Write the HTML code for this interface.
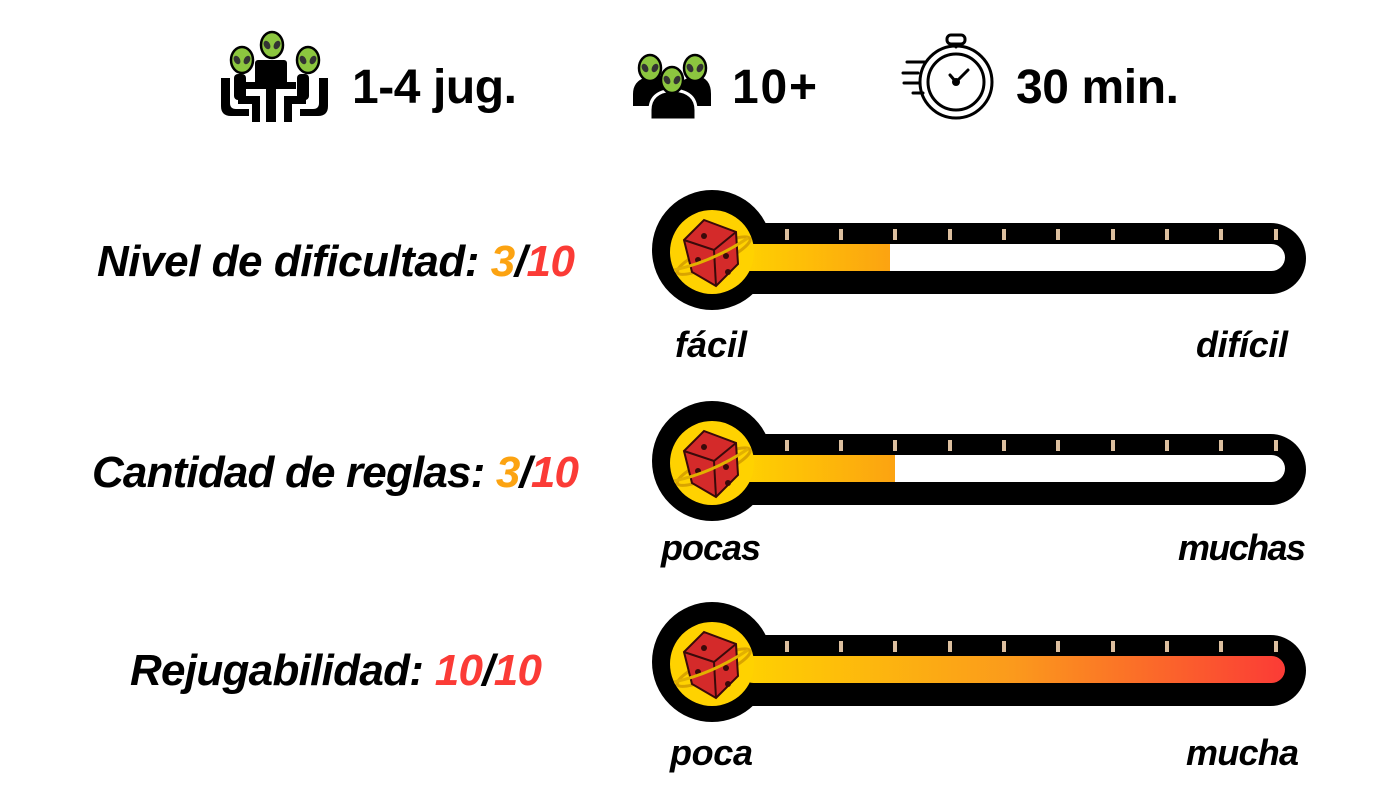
<!DOCTYPE html>
<html><head><meta charset="utf-8"><style>html,body{margin:0;padding:0;background:#fff}svg{display:block}</style></head>
<body>
<svg width="1400" height="800" viewBox="0 0 1400 800" xmlns="http://www.w3.org/2000/svg">
<defs>
<linearGradient id="gy" x1="0" x2="1"><stop offset="0" stop-color="#ffd200"/><stop offset="1" stop-color="#fca311"/></linearGradient>
<linearGradient id="gr" x1="0" x2="1"><stop offset="0" stop-color="#ffd200"/><stop offset="0.5" stop-color="#fb9a1c"/><stop offset="1" stop-color="#fb3b36"/></linearGradient>
<g id="dice">
<circle cx="0" cy="0" r="42" fill="#ffd200"/>
<ellipse cx="0" cy="4" rx="40" ry="9" fill="none" stroke="#d9a400" stroke-width="3" transform="rotate(-25)"/>
<polygon points="-28,-12 -8,-32 24,-20 26,12 4,34 -20,20" fill="#d42a2a" stroke="#3a0a0a" stroke-width="2"/>
<polyline points="-28,-12 2,-2 24,-20 M2,-2" fill="none" stroke="#3a0a0a" stroke-width="2"/>
<line x1="2" y1="-2" x2="4" y2="34" stroke="#3a0a0a" stroke-width="2"/>
<circle cx="-8" cy="-16" r="3" fill="#3a0a0a"/><circle cx="14" cy="4" r="3" fill="#3a0a0a"/><circle cx="-14" cy="8" r="3" fill="#3a0a0a"/><circle cx="16" cy="20" r="3" fill="#3a0a0a"/>
<path d="M-38,18 Q0,10 36,-14" fill="none" stroke="#e2b100" stroke-width="3"/>
</g>
<g id="ticks" fill="#dcbf9f">
<rect x="785" y="229" width="4" height="11"/><rect x="839" y="229" width="4" height="11"/><rect x="893" y="229" width="4" height="11"/><rect x="948" y="229" width="4" height="11"/><rect x="1002" y="229" width="4" height="11"/><rect x="1056" y="229" width="4" height="11"/><rect x="1111" y="229" width="4" height="11"/><rect x="1165" y="229" width="4" height="11"/><rect x="1219" y="229" width="4" height="11"/><rect x="1274" y="229" width="4" height="11"/>
</g>
<g id="alien"><ellipse cx="0" cy="0" rx="11" ry="13" fill="#8cc63f" stroke="#000" stroke-width="2.5"/><ellipse cx="-5" cy="0" rx="3" ry="4.5" fill="#333" transform="rotate(-30 -5 0)"/><ellipse cx="5" cy="0" rx="3" ry="4.5" fill="#333" transform="rotate(30 5 0)"/></g>
</defs>

<!-- top icons -->
<g>
<rect x="255" y="60" width="32" height="26" rx="3" fill="#000"/>
<rect x="246" y="82" width="50" height="7" fill="#000"/>
<rect x="266" y="88" width="10" height="34" fill="#000"/>
<path d="M221,78 v28 q0,10 10,10 h18 v-7 h-13 q-6,0 -6,-6 v-25z" fill="#000"/>
<rect x="234" y="74" width="12" height="26" rx="4" fill="#000"/>
<rect x="238" y="96" width="20" height="8" fill="#000"/>
<rect x="252" y="96" width="8" height="26" fill="#000"/>
<path d="M328,78 v28 q0,10 -10,10 h-18 v-7 h13 q6,0 6,-6 v-25z" fill="#000"/>
<rect x="297" y="74" width="12" height="26" rx="4" fill="#000"/>
<rect x="286" y="96" width="20" height="8" fill="#000"/>
<rect x="284" y="96" width="8" height="26" fill="#000"/>
<use href="#alien" x="242" y="60"/><use href="#alien" x="272" y="45"/><use href="#alien" x="308" y="60"/>
<text x="352" y="103" font-family="Liberation Sans, sans-serif" font-weight="bold" font-size="48" textLength="165">1-4 jug.</text>

<path d="M633,106 v-12 q0,-16 20,-18 h10 q20,2 20,18 v12z" fill="#000"/>
<path d="M677,106 v-12 q0,-16 20,-18 h0 q14,2 14,18 v12z" fill="#000"/>
<path d="M650,120 v-10 q0,-18 22,-20 h2 q22,2 22,20 v10z" fill="#000" stroke="#fff" stroke-width="3"/>
<use href="#alien" x="650" y="68"/><use href="#alien" x="695" y="68"/><use href="#alien" x="672" y="80"/>
<text x="732" y="103" font-family="Liberation Sans, sans-serif" font-weight="bold" font-size="48" textLength="85">10+</text>

<g fill="none" stroke="#000" stroke-width="3" stroke-linecap="round">
<circle cx="956" cy="82" r="36"/><circle cx="956" cy="82" r="28"/>
<rect x="947" y="35" width="18" height="9" rx="4"/><line x1="956" y1="44" x2="956" y2="47"/>
<line x1="956" y1="82" x2="968" y2="70"/><line x1="956" y1="82" x2="950" y2="75"/>
<line x1="903" y1="73" x2="918" y2="73"/><line x1="907" y1="62" x2="925" y2="62"/><line x1="904" y1="83" x2="920" y2="83"/><line x1="913" y1="93" x2="923" y2="93"/>
</g>
<circle cx="956" cy="82" r="4" fill="#000"/>
<text x="1016" y="103" font-family="Liberation Sans, sans-serif" font-weight="bold" font-size="48" textLength="163">30 min.</text>
</g>

<g font-family="Liberation Sans, sans-serif" font-weight="bold" font-style="italic">
<!-- row 1 -->
<text x="97" y="276" font-size="44" textLength="478"><tspan fill="#000">Nivel de dificultad: </tspan><tspan fill="#fca311">3</tspan><tspan fill="#000">/</tspan><tspan fill="#fb3b36">10</tspan></text>
<text x="675" y="357" font-size="36" textLength="72">fácil</text>
<text x="1196" y="357" font-size="36" textLength="92">difícil</text>
<!-- row 2 -->
<text x="92" y="487" font-size="44" textLength="487"><tspan fill="#000">Cantidad de reglas: </tspan><tspan fill="#fca311">3</tspan><tspan fill="#000">/</tspan><tspan fill="#fb3b36">10</tspan></text>
<text x="661" y="560" font-size="36" textLength="100">pocas</text>
<text x="1178" y="560" font-size="36" textLength="128">muchas</text>
<!-- row 3 -->
<text x="130" y="685" font-size="44" textLength="412"><tspan fill="#000">Rejugabilidad: </tspan><tspan fill="#fb3b36">10</tspan><tspan fill="#000">/</tspan><tspan fill="#fb3b36">10</tspan></text>
<text x="670" y="765" font-size="36" textLength="83">poca</text>
<text x="1186" y="765" font-size="36" textLength="113">mucha</text>
</g>

<!-- bar 1 -->
<g>
<circle cx="712" cy="250" r="60" fill="#000"/>
<rect x="712" y="223" width="594" height="71" rx="35.5" fill="#000"/>
<rect x="740" y="244" width="545" height="27" rx="13.5" fill="#fff"/>
<rect x="740" y="244" width="150" height="27" fill="url(#gy)"/>
<use href="#ticks"/>
<use href="#dice" x="712" y="252"/>
</g>
<!-- bar 2 -->
<g transform="translate(0,211)">
<circle cx="712" cy="250" r="60" fill="#000"/>
<rect x="712" y="223" width="594" height="71" rx="35.5" fill="#000"/>
<rect x="740" y="244" width="545" height="27" rx="13.5" fill="#fff"/>
<rect x="740" y="244" width="155" height="27" fill="url(#gy)"/>
<use href="#ticks"/>
<use href="#dice" x="712" y="252"/>
</g>
<!-- bar 3 -->
<g transform="translate(0,412)">
<circle cx="712" cy="250" r="60" fill="#000"/>
<rect x="712" y="223" width="594" height="71" rx="35.5" fill="#000"/>
<rect x="740" y="244" width="545" height="27" rx="13.5" fill="url(#gr)"/>
<use href="#ticks"/>
<use href="#dice" x="712" y="252"/>
</g>
</svg>
</body></html>
